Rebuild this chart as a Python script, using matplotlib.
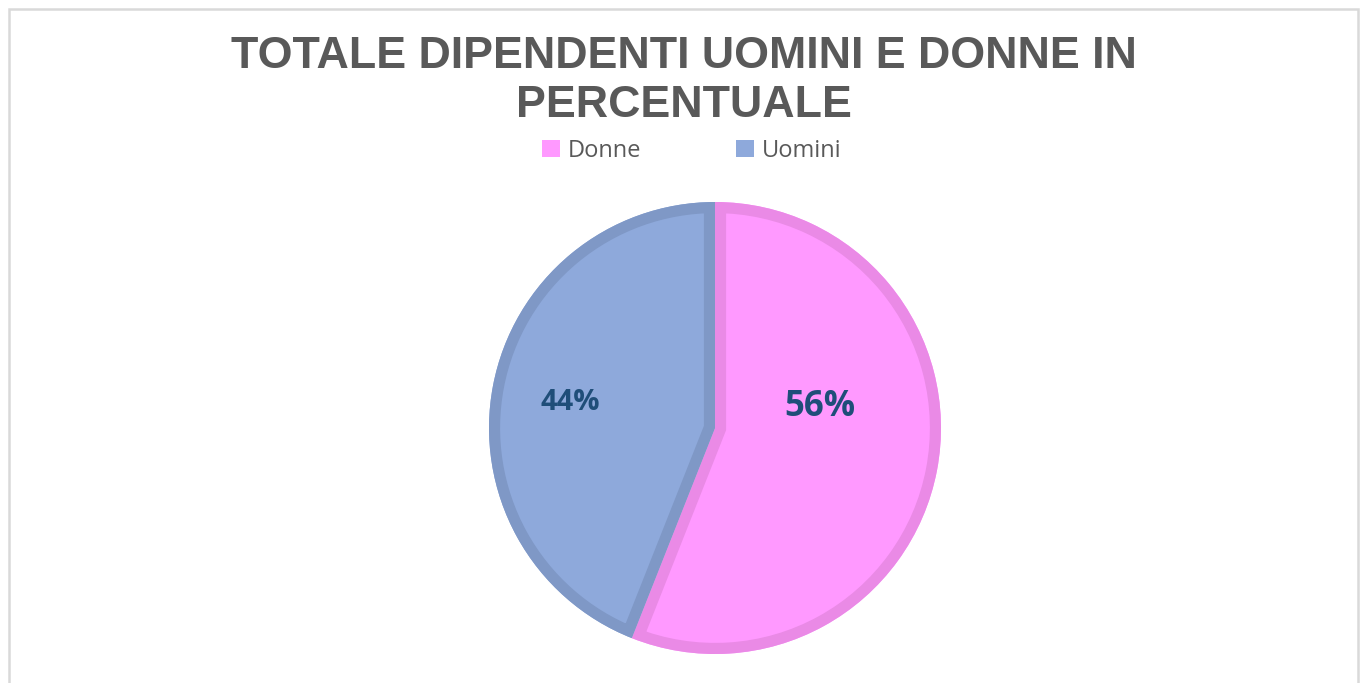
import matplotlib
matplotlib.use("Agg")
import matplotlib.pyplot as plt
from matplotlib.patches import Rectangle, Patch, Wedge

categories = ["Donne", "Uomini"]
values = [56, 44]
labels = ["56%", "44%"]
title = "TOTALE DIPENDENTI UOMINI E DONNE IN\nPERCENTUALE"

fill_colors = ["#FF99FF", "#8EA9DB"]
edge_colors = ["#EA8AE6", "#7F98C6"]
label_color = "#1F4E79"

W, H = 1362, 683
fig = plt.figure(figsize=(W / 100, H / 100), dpi=100)
fig.patch.set_facecolor("white")

# frame
fig.add_artist(Rectangle((9 / W, -0.05), (1358 - 9) / W, 1.05 - 9 / H,
                         transform=fig.transFigure, fill=False,
                         edgecolor="#D9D9D9", linewidth=1.8))

cx, cy, r = 715, 428, 226
ax = fig.add_axes([(cx - r) / W, (H - cy - r) / H, 2 * r / W, 2 * r / H])

wedges, _ = ax.pie(values, colors=fill_colors, startangle=90, counterclock=False,
                   radius=1, center=(0, 0), frame=False,
                   wedgeprops={"linewidth": 0, "edgecolor": "none"})
# inner stroke for each slice: stroke clipped by the slice itself
for w, ec in zip(wedges, edge_colors):
    clip = Wedge(w.center, w.r, w.theta1, w.theta2, transform=ax.transData)
    stroke = Wedge(w.center, w.r, w.theta1, w.theta2, facecolor="none",
                   edgecolor=ec, linewidth=16, joinstyle="miter")
    ax.add_patch(stroke)
    stroke.set_clip_path(clip)
ax.set_xlim(-1, 1)
ax.set_ylim(-1, 1)
ax.axis("off")

# data labels (Excel best-fit positions)
label_pos = [(0.465, 0.093), (-0.64, 0.115)]
label_sizes = [25, 21]
for lab, (x, y), s in zip(labels, label_pos, label_sizes):
    ax.text(x, y, lab, ha="center", va="center", fontsize=s, fontweight="bold",
            color=label_color, family="Open Sans")

fig.text(684 / W, 1 - 81 / H, title, ha="center", va="center", fontsize=32.2,
         fontweight="bold", color="#595959", family="Liberation Sans",
         linespacing=1.25)

handles = [Patch(facecolor=c, edgecolor="none") for c in fill_colors]
leg = fig.legend(handles, categories, loc="center", bbox_to_anchor=(692 / W, 1 - 151 / H),
                 ncol=2, frameon=False, handlelength=0.75, handleheight=0.75,
                 handletextpad=0.35, columnspacing=4.0,
                 prop={"family": "Open Sans", "size": 17})
for t in leg.get_texts():
    t.set_color("#595959")

fig.savefig("out.png", dpi=100, facecolor="white")
